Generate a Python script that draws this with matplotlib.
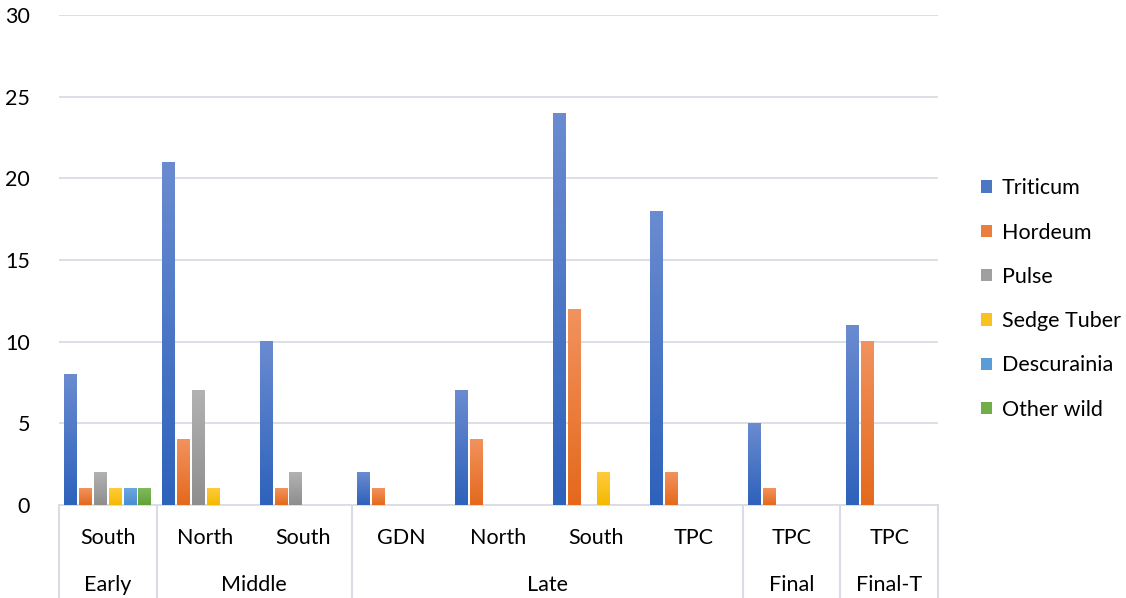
import matplotlib

matplotlib.use("Agg")
import matplotlib.pyplot as plt
import matplotlib.transforms as mtransforms
import numpy as np
from matplotlib.colors import LinearSegmentedColormap, to_rgb
from matplotlib.patches import Patch

plt.rcParams["font.family"] = ["Lato", "DejaVu Sans"]

series = ["Triticum", "Hordeum", "Pulse", "Sedge Tuber", "Descurainia", "Other wild"]
groups = ["Early", "Middle", "Middle", "Late", "Late", "Late", "Late", "Final", "Final-T"]
sites = ["South", "North", "South", "GDN", "North", "South", "TPC", "TPC", "TPC"]

triticum = [8, 21, 10, 2, 7, 24, 18, 5, 11]
hordeum = [1, 4, 1, 1, 4, 12, 2, 1, 10]
pulse = [2, 7, 2, 0, 0, 0, 0, 0, 0]
sedge_tuber = [1, 1, 0, 0, 0, 2, 0, 0, 0]
descurainia = [1, 0, 0, 0, 0, 0, 0, 0, 0]
other_wild = [1, 0, 0, 0, 0, 0, 0, 0, 0]
values = [triticum, hordeum, pulse, sedge_tuber, descurainia, other_wild]

# (top, bottom) colours for the vertical gradient on each series
shades = [
    ("#6a8bd0", "#2e62bb"),
    ("#f2925e", "#e4691c"),
    ("#b2b2b2", "#8e8e8e"),
    ("#ffcb3c", "#f4b900"),
    ("#6ca7dd", "#4a8ed0"),
    ("#82b85c", "#60a338"),
]
grid_color = "#d9dce3"
font_size = 15.5

fig = plt.figure(figsize=(11.26, 5.98), dpi=100)
ax = fig.add_axes([59 / 1126, 93 / 598, 879 / 1126, 490 / 598])

n_cat = len(sites)
n_ser = len(series)
slot = 1.0 / 6.6
bar_w = slot * 0.86
x = np.arange(n_cat)

for i, (vals, (top, bottom)) in enumerate(zip(values, shades)):
    cmap = LinearSegmentedColormap.from_list(series[i], [bottom, top])
    offset = (i - (n_ser - 1) / 2) * slot
    for xc, v in zip(x, vals):
        if v <= 0:
            continue
        x0 = xc + offset - bar_w / 2
        grad = np.linspace(0, 1, 64).reshape(-1, 1)
        ax.imshow(grad, cmap=cmap, origin="lower", aspect="auto",
                  extent=[x0, x0 + bar_w, 0, v], zorder=3, interpolation="bilinear")

ax.set_xlim(-0.5, n_cat - 0.5)
ax.set_ylim(0, 30)
ax.set_yticks(range(0, 31, 5))
ax.grid(axis="y", color=grid_color, linewidth=1.3, zorder=0)
ax.set_axisbelow(True)
for side in ["top", "right", "left"]:
    ax.spines[side].set_visible(False)
ax.spines["bottom"].set_color(grid_color)
ax.spines["bottom"].set_linewidth(1.3)
ax.tick_params(axis="y", length=0, labelsize=font_size, pad=21)
ax.tick_params(axis="x", length=0, labelbottom=False)

# two-level category axis drawn below the plot
trans = mtransforms.blended_transform_factory(ax.transData, ax.transAxes)
for xc, s in zip(x, sites):
    ax.text(xc, -0.067, s, transform=trans, ha="center", va="center", fontsize=font_size)

bounds = [0]
for k in range(1, n_cat):
    if groups[k] != groups[k - 1]:
        bounds.append(k)
bounds.append(n_cat)
for a, b in zip(bounds[:-1], bounds[1:]):
    ax.text((a + b - 1) / 2, -0.163, groups[a], transform=trans,
            ha="center", va="center", fontsize=font_size)
for b in bounds:
    ax.plot([b - 0.5, b - 0.5], [0, -0.2], transform=trans, color=grid_color,
            linewidth=1.5, clip_on=False)

handles = [Patch(facecolor=(np.array(to_rgb(t)) + np.array(to_rgb(b))) / 2, edgecolor="none")
           for t, b in shades]
fig.legend(handles, series, loc="center left", bbox_to_anchor=(962 / 1126, 0.50),
           frameon=False, fontsize=font_size, labelspacing=1.13, handlelength=0.5,
           handleheight=0.5, handletextpad=0.45)

fig.savefig("out.png", dpi=100)
